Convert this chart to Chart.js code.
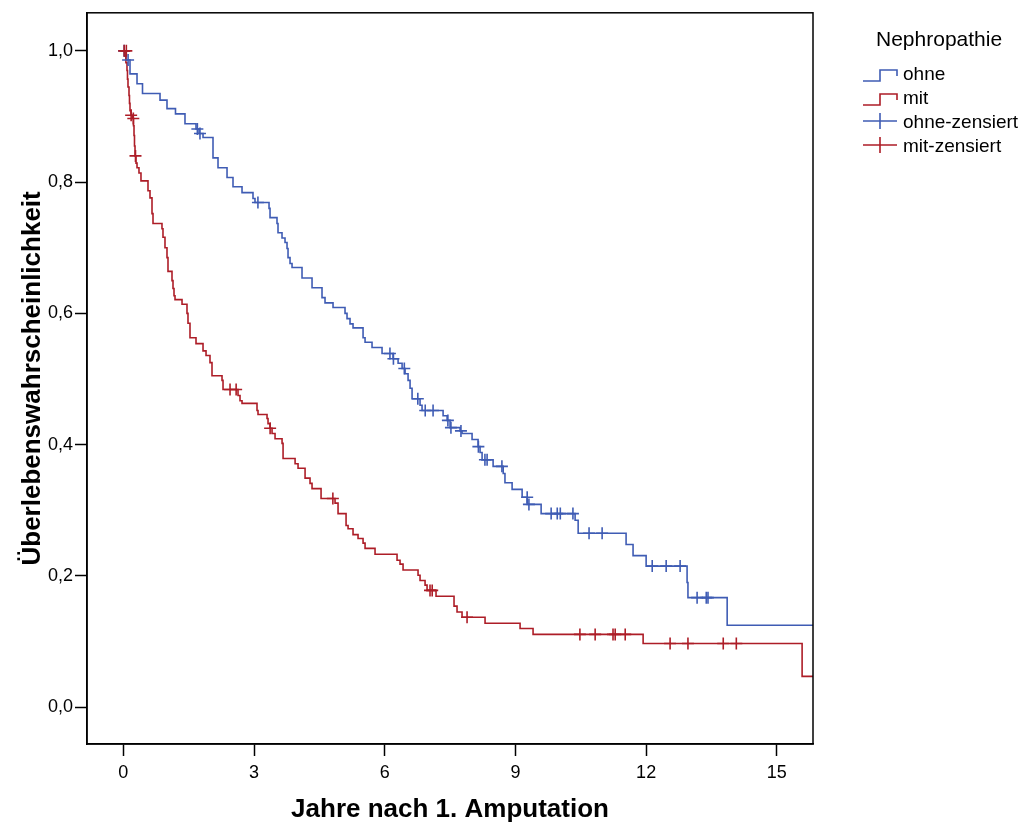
<!DOCTYPE html>
<html lang="de">
<head>
<meta charset="utf-8">
<title>Überlebenswahrscheinlichkeit nach Nephropathie</title>
<script src="https://cdn.jsdelivr.net/npm/chart.js@4.4.1/dist/chart.umd.min.js"></script>
<style>
  body { margin: 0; background: #fff; font-family: "Liberation Sans", Arial, sans-serif; }
  .wrap { position: relative; width: 1026px; height: 823px; }
  .legend-title { position: absolute; left: 876px; top: 27px; font-size: 21px; color: #000; white-space: nowrap; }
  .legend-row { position: absolute; left: 863px; height: 24px; display: flex; align-items: center; font-size: 19px; color: #000; white-space: nowrap; }
  .legend-row svg { margin-right: 4px; }
</style>
</head>
<body>
<div class="wrap">
  <canvas id="kmChart"></canvas>
  <div class="legend-title">Nephropathie</div>
  <div id="legend"></div>
</div>
<script>
// Kaplan-Meier: Zeit (Jahre) und Überlebensanteil nach jedem Ereignis
const ohneTimes = [0, 0.062, 0.154, 0.315, 0.441, 0.843, 1.003, 1.198, 1.416, 1.669, 1.738, 1.830, 2.059, 2.174, 2.381, 2.518, 2.725, 2.977, 3.023, 3.345, 3.368, 3.528, 3.551, 3.643, 3.712, 3.758, 3.781, 3.827, 3.873, 4.102, 4.332, 4.561, 4.630, 4.814, 5.089, 5.135, 5.204, 5.273, 5.503, 5.549, 5.709, 5.939, 6.192, 6.307, 6.399, 6.467, 6.536, 6.582, 6.628, 6.811, 6.857, 7.340, 7.432, 7.500, 7.730, 7.775, 8.005, 8.143, 8.189, 8.235, 8.488, 8.720, 8.760, 8.924, 9.154, 9.268, 9.590, 10.37, 10.44, 11.54, 11.70, 12.00, 12.94, 12.96, 13.86, 15.83];
const ohneSurv  = [1.0, 0.986, 0.965, 0.950, 0.935, 0.925, 0.912, 0.904, 0.889, 0.881, 0.874, 0.868, 0.837, 0.822, 0.807, 0.793, 0.784, 0.775, 0.769, 0.760, 0.746, 0.737, 0.723, 0.715, 0.708, 0.699, 0.685, 0.676, 0.670, 0.654, 0.639, 0.624, 0.616, 0.609, 0.600, 0.592, 0.584, 0.578, 0.563, 0.556, 0.548, 0.539, 0.531, 0.524, 0.516, 0.508, 0.498, 0.486, 0.470, 0.460, 0.452, 0.444, 0.437, 0.426, 0.421, 0.417, 0.408, 0.397, 0.388, 0.377, 0.367, 0.356, 0.342, 0.332, 0.320, 0.309, 0.295, 0.285, 0.265, 0.248, 0.231, 0.215, 0.190, 0.167, 0.125, 0.125];

const mitTimes = [0, 0.04, 0.06, 0.085, 0.096, 0.108, 0.131, 0.142, 0.154, 0.177, 0.211, 0.234, 0.246, 0.257, 0.269, 0.292, 0.315, 0.360, 0.406, 0.567, 0.613, 0.659, 0.682, 0.888, 0.911, 0.957, 1.003, 1.026, 1.118, 1.141, 1.164, 1.187, 1.348, 1.462, 1.485, 1.531, 1.669, 1.830, 1.899, 1.990, 2.036, 2.266, 2.289, 2.633, 2.679, 2.725, 3.069, 3.092, 3.299, 3.322, 3.368, 3.414, 3.483, 3.644, 3.667, 3.943, 4.011, 4.172, 4.286, 4.332, 4.539, 4.860, 4.929, 5.113, 5.159, 5.273, 5.388, 5.503, 5.549, 5.778, 6.283, 6.352, 6.421, 6.765, 6.811, 6.926, 6.972, 7.178, 7.591, 7.660, 7.775, 8.303, 9.107, 9.405, 11.931, 15.58, 15.83];
const mitSurv  = [1.0, 0.992, 0.982, 0.970, 0.957, 0.945, 0.932, 0.920, 0.909, 0.902, 0.897, 0.886, 0.871, 0.855, 0.840, 0.829, 0.822, 0.814, 0.802, 0.787, 0.776, 0.752, 0.737, 0.729, 0.716, 0.700, 0.685, 0.664, 0.650, 0.638, 0.627, 0.621, 0.614, 0.600, 0.585, 0.563, 0.554, 0.543, 0.536, 0.525, 0.505, 0.498, 0.484, 0.475, 0.467, 0.463, 0.452, 0.446, 0.440, 0.432, 0.425, 0.417, 0.409, 0.402, 0.379, 0.371, 0.364, 0.349, 0.341, 0.333, 0.318, 0.311, 0.295, 0.277, 0.272, 0.263, 0.257, 0.250, 0.242, 0.233, 0.224, 0.218, 0.209, 0.201, 0.193, 0.186, 0.178, 0.169, 0.154, 0.145, 0.137, 0.128, 0.120, 0.111, 0.097, 0.047, 0.047];

// zensierte Fälle
const ohneCensTimes = [0.02, 0.11, 1.70, 1.76, 3.09, 6.12, 6.20, 6.45, 6.76, 6.93, 7.11, 7.45, 7.52, 7.75, 8.15, 8.30, 8.35, 8.69, 9.27, 9.31, 9.82, 9.96, 10.03, 10.32, 10.69, 10.99, 12.14, 12.46, 12.78, 13.17, 13.38, 13.42];
const ohneCensSurv  = [1.0, 0.986, 0.881, 0.874, 0.769, 0.539, 0.531, 0.516, 0.470, 0.452, 0.452, 0.437, 0.426, 0.421, 0.397, 0.377, 0.377, 0.367, 0.320, 0.309, 0.295, 0.295, 0.295, 0.295, 0.265, 0.265, 0.215, 0.215, 0.215, 0.167, 0.167, 0.167];
const mitCensTimes = [0.02, 0.07, 0.18, 0.23, 0.28, 2.45, 2.59, 3.37, 4.81, 7.04, 7.09, 7.89, 10.48, 10.83, 11.24, 11.29, 11.52, 12.55, 12.96, 13.77, 14.07];
const mitCensSurv  = [1.0, 1.0, 0.902, 0.897, 0.840, 0.484, 0.484, 0.425, 0.318, 0.178, 0.178, 0.137, 0.111, 0.111, 0.111, 0.111, 0.111, 0.097, 0.097, 0.097, 0.097];

const xTicks = [0, 3, 6, 9, 12, 15];
const yTicks = [0, 0.2, 0.4, 0.6, 0.8, 1.0];

const BLUE = '#3f5cb4';
const RED = '#ad1d27';
const FONT = '"Liberation Sans", Arial, sans-serif';

const toPoints = (ts, ss) => ts.map((t, i) => ({ x: t, y: ss[i] }));

// Rahmen um die Plotfläche
const framePlugin = {
  id: 'frame',
  afterDraw(chart) {
    const { ctx, chartArea: a } = chart;
    ctx.save();
    ctx.strokeStyle = '#000';
    ctx.lineWidth = 1.5;
    ctx.strokeRect(a.left, a.top, a.right - a.left, a.bottom - a.top);
    ctx.restore();
  }
};

function buildLegend() {
  const items = [
    { label: 'ohne', color: BLUE, kind: 'step', top: 62 },
    { label: 'mit', color: RED, kind: 'step', top: 86 },
    { label: 'ohne-zensiert', color: BLUE, kind: 'cross', top: 110 },
    { label: 'mit-zensiert', color: RED, kind: 'cross', top: 134 }
  ];
  const box = document.getElementById('legend');
  items.forEach(it => {
    const row = document.createElement('div');
    row.className = 'legend-row';
    row.style.top = it.top + 'px';
    const path = it.kind === 'step'
      ? 'M0 18 H17 V7 H34 V13'
      : 'M0 10 H34 M17 2 V18';
    row.innerHTML = `
      <svg width="36" height="22" viewBox="0 0 36 22">
        <path d="${path}" fill="none" stroke="${it.color}" stroke-width="1.6"/>
      </svg>
      <span>${it.label}</span>`;
    box.appendChild(row);
  });
}

document.addEventListener('DOMContentLoaded', function () {
  buildLegend();
  const ctx = document.getElementById('kmChart');

  new Chart(ctx.getContext('2d'), {
    type: 'scatter',
    data: {
      datasets: [
        {
          label: 'mit-zensiert',
          data: toPoints(mitCensTimes, mitCensSurv),
          showLine: false,
          pointStyle: 'cross',
          pointRadius: 6,
          pointBorderWidth: 1.6,
          borderColor: RED,
          backgroundColor: RED
        },
        {
          label: 'ohne-zensiert',
          data: toPoints(ohneCensTimes, ohneCensSurv),
          showLine: false,
          pointStyle: 'cross',
          pointRadius: 6,
          pointBorderWidth: 1.6,
          borderColor: BLUE,
          backgroundColor: BLUE
        },
        {
          label: 'mit',
          data: toPoints(mitTimes, mitSurv),
          showLine: true,
          stepped: 'before',
          borderColor: RED,
          borderWidth: 1.6,
          pointRadius: 0,
          fill: false
        },
        {
          label: 'ohne',
          data: toPoints(ohneTimes, ohneSurv),
          showLine: true,
          stepped: 'before',
          borderColor: BLUE,
          borderWidth: 1.6,
          pointRadius: 0,
          fill: false
        }
      ]
    },
    options: {
      responsive: true,
      maintainAspectRatio: false,
      animation: false,
      layout: { padding: { top: 12, right: 213, left: 0, bottom: 0 } },
      plugins: {
        legend: { display: false },
        tooltip: { enabled: false }
      },
      scales: {
        x: {
          type: 'linear',
          min: -0.833,
          max: 15.83,
          afterBuildTicks: axis => { axis.ticks = xTicks.map(v => ({ value: v })); },
          afterFit: axis => { axis.height = 79; },
          grid: { drawOnChartArea: false, drawTicks: true, tickLength: 12, tickWidth: 1.5, tickColor: '#000' },
          border: { display: true, color: '#000', width: 1.5 },
          ticks: {
            color: '#000',
            padding: 6,
            font: { family: FONT, size: 18 },
            callback: v => String(v)
          },
          title: {
            display: true,
            text: 'Jahre nach 1. Amputation',
            color: '#000',
            font: { family: FONT, size: 26, weight: 'bold' },
            padding: { top: 0, bottom: -2 }
          }
        },
        y: {
          type: 'linear',
          min: -0.056,
          max: 1.058,
          afterBuildTicks: axis => { axis.ticks = yTicks.map(v => ({ value: v })); },
          afterFit: axis => { axis.width = 87; },
          grid: { drawOnChartArea: false, drawTicks: true, tickLength: 12, tickWidth: 1.5, tickColor: '#000' },
          border: { display: true, color: '#000', width: 1.5 },
          ticks: {
            color: '#000',
            padding: 2,
            font: { family: FONT, size: 18 },
            callback: v => v.toFixed(1).replace('.', ',')
          },
          title: {
            display: true,
            text: 'Überlebenswahrscheinlichkeit',
            color: '#000',
            font: { family: FONT, size: 26, weight: 'bold' },
            padding: { top: 17, bottom: 0 }
          }
        }
      }
    },
    plugins: [framePlugin]
  });
});
</script>
</body>
</html>
